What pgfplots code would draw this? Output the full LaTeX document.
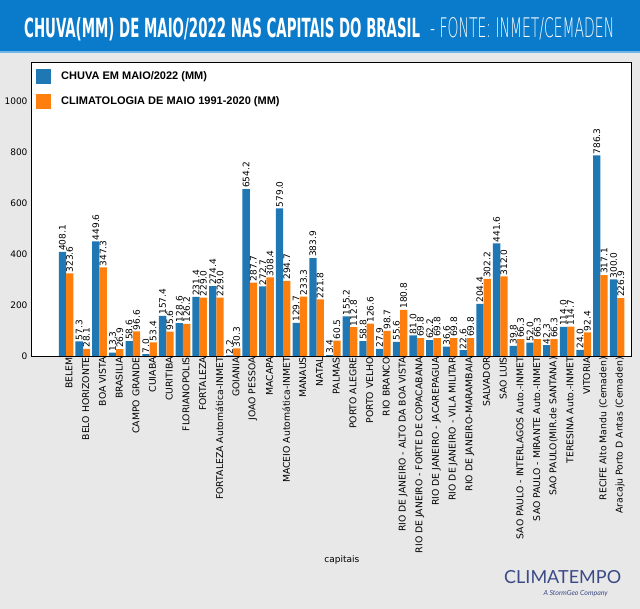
\documentclass[border=0pt]{standalone}
\usepackage{pgfplots}
\pgfplotsset{compat=1.18}
\usepackage{pgfplotstable}
\usepackage{fontspec}
\setmainfont{DejaVu Sans}
\newfontfamily\legfont{Liberation Sans}
\newfontfamily\titlefont{DejaVu Sans Condensed}
\newfontfamily\titlelight{DejaVu Sans ExtraLight}
\newfontfamily\logofont{Lato}
\definecolor{mblue}{HTML}{1F77B4}
\definecolor{morange}{HTML}{FF7F0E}
\definecolor{bgray}{HTML}{E8E8E8}
\definecolor{tblue}{HTML}{0A7BCB}
\definecolor{tline}{HTML}{6DB6E6}
\definecolor{navy}{HTML}{3A4A85}

\pgfplotstableread{
idx chuva clim
0 408.1 323.6
1 57.3 28.1
2 449.6 347.3
3 13.3 26.9
4 58.6 96.6
5 7.0 53.4
6 157.4 95.6
7 128.6 126.2
8 231.4 229.0
9 274.4 229.0
10 2.2 30.3
11 654.2 287.7
12 272.7 308.4
13 579.0 294.7
14 129.7 233.3
15 383.9 221.8
16 3.4 60.5
17 155.2 112.8
18 58.8 126.6
19 27.9 98.7
20 55.6 180.8
21 81.0 69.8
22 62.2 69.8
23 36.6 69.8
24 22.6 69.8
25 204.4 302.2
26 441.6 312.0
27 39.8 66.3
28 52.0 66.3
29 42.3 66.3
30 114.0 114.7
31 24.0 92.4
32 786.3 317.1
33 300.0 226.9
}\datatable

\begin{document}
\begin{tikzpicture}
\path[use as bounding box] (0pt,0pt) rectangle (640pt,609pt);
\fill[bgray] (0pt,0pt) rectangle (640pt,609pt);
\fill[tblue] (0pt,558pt) rectangle (640pt,609pt);
\fill[tline] (0pt,556pt) rectangle (640pt,558pt);
\node[anchor=west, text=white, inner sep=0] at (24pt,580pt) {\resizebox{396pt}{20pt}{\titlefont\bfseries CHUVA(MM) DE MAIO/2022 NAS CAPITAIS DO BRASIL}};
\node[anchor=west, text=white, inner sep=0] at (430pt,580pt) {\resizebox{184pt}{20pt}{\titlelight - FONTE: INMET/CEMADEN}};
\node[anchor=west, text=navy, inner sep=0] at (504pt,32pt) {\logofont\fontsize{18}{19}\selectfont CLIMATEMPO};
\node[anchor=east, text=navy, inner sep=0] at (608pt,15pt) {\logofont\itshape\fontsize{7}{8}\selectfont A StormGeo Company};
\begin{axis}[
  at={(31pt,253pt)}, anchor=south west,
  width=600pt, height=294pt, scale only axis,
  xmin=-2.1, xmax=33.83, ymin=0, ymax=1153,
  axis background/.style={fill=white},
  axis line style={line width=0.9pt},
  ybar=0pt, bar width=7.3pt,
  xtick={0,...,33},
  xticklabels={{BELEM},{BELO HORIZONTE},{BOA VISTA},{BRASILIA},{CAMPO GRANDE},{CUIABA},{CURITIBA},{FLORIANOPOLIS},{FORTALEZA},{FORTALEZA Automática-INMET},{GOIANIA},{JOAO PESSOA},{MACAPA},{MACEIO Automática-INMET},{MANAUS},{NATAL},{PALMAS},{PORTO ALEGRE},{PORTO VELHO},{RIO BRANCO},{RIO DE JANEIRO - ALTO DA BOA VISTA},{RIO DE JANEIRO - FORTE DE COPACABANA},{RIO DE JANEIRO - JACAREPAGUA},{RIO DE JANEIRO - VILA MILITAR},{RIO DE JANEIRO-MARAMBAIA},{SALVADOR},{SAO LUIS},{SAO PAULO - INTERLAGOS Auto.-INMET},{SAO PAULO - MIRANTE Auto.-INMET},{SAO PAULO(MIR.de SANTANA)},{TERESINA Auto.-INMET},{VITORIA},{RECIFE Alto Mandu (Cemaden)},{Aracaju Porto D Antas (Cemaden)}},
  xticklabel style={rotate=90, anchor=east, font=\fontsize{9.3}{10}\selectfont, inner sep=1pt, yshift=-3pt},
  ytick={0,200,...,1000},
  yticklabel style={font=\fontsize{9}{10}\selectfont},
  major tick length=0pt,
  /pgf/number format/assume math mode=true,
  /pgf/number format/1000 sep={},
  xlabel={capitais},
  xlabel style={at={(axis description cs:0.518,-0.694)}, anchor=center, font=\fontsize{9}{10}\selectfont},
  nodes near coords={\pgfmathprintnumber[fixed,fixed zerofill,precision=1,assume math mode=true]{\pgfplotspointmeta}},
  nodes near coords style={rotate=90, anchor=west, inner sep=1pt, font=\fontsize{9}{10}\selectfont, text=black},
  legend style={at={(0,1)}, anchor=north west, draw=none, fill=none, font=\legfont\bfseries\fontsize{11}{13}\selectfont, row sep=10pt, inner xsep=5pt, inner ysep=7pt, cells={anchor=west}, /tikz/every odd column/.append style={column sep=8pt}},
]
\addplot[fill=mblue, draw=none, legend image code/.code={\fill[mblue] (0pt,-7.5pt) rectangle (15pt,7.5pt);}] table[x=idx,y=chuva] {\datatable};
\addlegendentry{CHUVA EM MAIO/2022 (MM)}
\addplot[fill=morange, draw=none, legend image code/.code={\fill[morange] (0pt,-7.5pt) rectangle (15pt,7.5pt);}] table[x=idx,y=clim] {\datatable};
\addlegendentry{CLIMATOLOGIA DE MAIO 1991-2020 (MM)}
\end{axis}
\end{tikzpicture}
\end{document}
